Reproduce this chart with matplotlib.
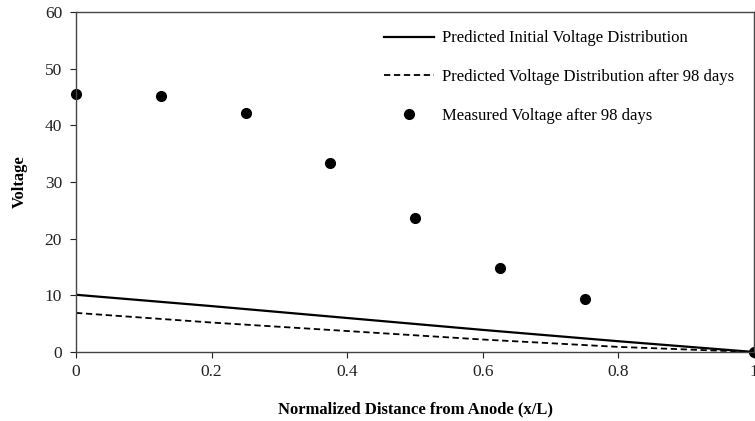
import matplotlib
matplotlib.use("Agg")
import matplotlib.pyplot as plt

# data
x_pred = [0.0, 0.2, 0.4, 0.6, 0.8, 1.0]
v_initial = [10.1, 8.1, 6.0, 3.9, 1.9, 0.0]
v_98days = [6.9, 5.2, 3.7, 2.2, 0.9, 0.0]

x_meas = [0.0, 0.125, 0.25, 0.375, 0.5, 0.625, 0.75, 1.0]
v_meas = [45.5, 45.2, 42.1, 33.3, 23.7, 14.8, 9.3, 0.0]

xticks = [0, 0.2, 0.4, 0.6, 0.8, 1]
xtick_labels = ["0", "0.2", "0.4", "0.6", "0.8", "1"]
yticks = [0, 10, 20, 30, 40, 50, 60]

plt.rcParams['font.family'] = ['Liberation Serif', 'DejaVu Serif']

fig = plt.figure(figsize=(7.55, 4.21), dpi=100)
ax = fig.add_axes([76 / 755, (421 - 352) / 421, (754 - 76) / 755, (352 - 12) / 421])

ax.plot(x_pred, v_initial, color='black', lw=1.6, label='Predicted Initial Voltage Distribution')
ax.plot(x_pred, v_98days, color='black', lw=1.3, ls=(0, (3.5, 2)),
        label='Predicted Voltage Distribution after 98 days')
ax.plot(x_meas, v_meas, 'o', color='black', ms=7, label='Measured Voltage after 98 days', clip_on=False)

ax.set_xlim(0, 1)
ax.set_ylim(0, 60)
ax.set_xticks(xticks)
ax.set_xticklabels(xtick_labels)
ax.set_yticks(yticks)
ax.tick_params(axis='both', direction='out', length=4, width=0.8, labelsize=12.5, colors='#222222')
ax.tick_params(axis='x', pad=5)
ax.tick_params(axis='y', pad=6)
for sp in ax.spines.values():
    sp.set_color('#444444')
    sp.set_linewidth(1.0)

ax.set_xlabel('Normalized Distance from Anode (x/L)', fontsize=12, fontweight='bold', labelpad=15)
ax.set_ylabel('Voltage', fontsize=12, fontweight='bold', labelpad=12)

ax.legend(loc='upper right', bbox_to_anchor=(0.993, 0.99), frameon=False, fontsize=12,
          handlelength=3.0, handletextpad=0.5, labelspacing=1.36, numpoints=1)

fig.savefig('out.png', dpi=100)
